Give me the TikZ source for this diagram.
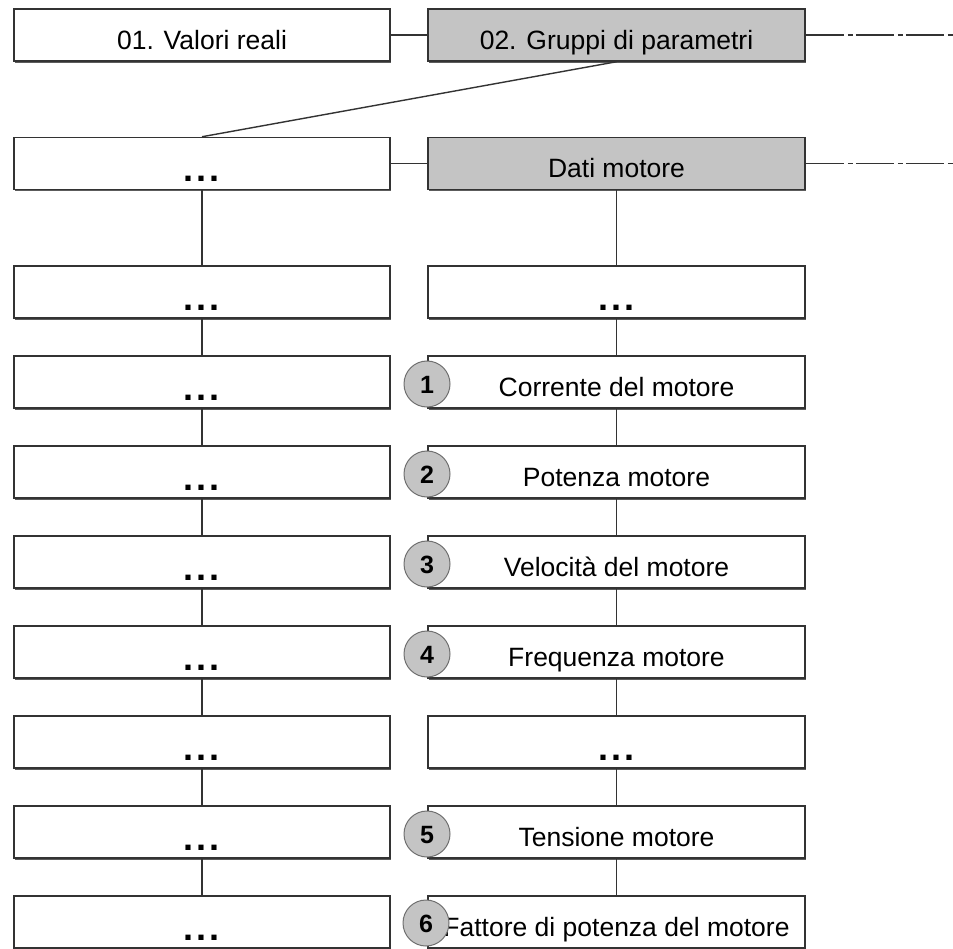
\documentclass[tikz,border=0pt]{standalone}
\usepackage{fontspec}
\setmainfont{Liberation Sans}
\usetikzlibrary{shadows}
\definecolor{boxgray}{HTML}{C4C4C4}
\definecolor{linecol}{HTML}{333333}
\begin{document}
\begin{tikzpicture}[x=1pt,y=-1pt,
  box/.style={draw=linecol, line width=1.5pt, fill=white, minimum height=52pt, inner sep=0pt,
    font=\fontsize{26.5}{30}\selectfont,
    general shadow={fill=linecol!80, shadow xshift=1.2pt, shadow yshift=-2pt}},
  lbox/.style={box, minimum width=376pt},
  rbox/.style={box, minimum width=377pt},
  gbox/.style={rbox, fill=boxgray},
  num/.style={circle, draw=linecol!70, line width=1pt, fill=boxgray, minimum size=46pt, inner sep=0pt,
    text depth=0pt, font=\fontsize{25}{27}\selectfont\bfseries},
  conn/.style={draw=linecol, line width=1.4pt},
  dashdot/.style={conn, dash pattern=on 38pt off 4pt on 5pt off 3pt}]
\useasboundingbox (0,0) rectangle (953,949);
\fill[white] (0,0) rectangle (953,949);
\newcommand{\dts}{\raisebox{-18.5pt}[0pt][0pt]{\fontsize{36}{36}\selectfont\bfseries .\hspace{3pt}.\hspace{3pt}.}}
\newcommand{\lw}[1]{\raisebox{-14.5pt}[0pt][0pt]{#1}}
% row 1
\node[lbox] (L1) at (202,35) {\lw{01. Valori reali}};
\node[gbox] (R1) at (616.5,35) {\lw{02. Gruppi di parametri}};
% row 2
\node[lbox] (L2) at (202,163.5) {\dts};
\node[gbox] (R2) at (616.5,163.5) {\lw{Dati motore}};
% rows
\node[lbox] (L3) at (202,292) {\dts};
\node[rbox] (R3) at (616.5,292) {\dts};
\node[lbox] (L4) at (202,382) {\dts};
\node[rbox] (R4) at (616.5,382) {\lw{Corrente del motore}};
\node[lbox] (L5) at (202,472) {\dts};
\node[rbox] (R5) at (616.5,472) {\lw{Potenza motore}};
\node[lbox] (L6) at (202,562) {\dts};
\node[rbox] (R6) at (616.5,562) {\lw{Velocità del motore}};
\node[lbox] (L7) at (202,652) {\dts};
\node[rbox] (R7) at (616.5,652) {\lw{Frequenza motore}};
\node[lbox] (L8) at (202,742) {\dts};
\node[rbox] (R8) at (616.5,742) {\dts};
\node[lbox] (L9) at (202,832) {\dts};
\node[rbox] (R9) at (616.5,832) {\lw{Tensione motore}};
\node[lbox] (L10) at (202,922) {\dts};
\node[rbox] (R10) at (616.5,922) {\lw{Fattore di potenza del motore}};
% circles
\node[num] (C1) at (427,384) {\raisebox{-1.5pt}{1}};
\node[num] (C2) at (427,474) {\raisebox{-1.5pt}{2}};
\node[num] (C3) at (427,564) {\raisebox{-1.5pt}{3}};
\node[num] (C4) at (427,654) {\raisebox{-1.5pt}{4}};
\node[num] (C5) at (427,834) {\raisebox{-1.5pt}{5}};
\node[num] (C6) at (426,923) {\raisebox{-1.5pt}{6}};
% connectors
\coordinate (E1) at (960,35);
\coordinate (E2) at (960,163.5);
\draw[conn] (L1.east) -- (R1.west);
\draw[conn] (L2.east) -- (R2.west);
\draw[dashdot] (R1.east) -- (E1);
\draw[dashdot] (R2.east) -- (E2);
\draw[conn] (R1.south) -- (L2.north);
\foreach \a/\b in {2/3,3/4,4/5,5/6,6/7,7/8,8/9,9/10}{
  \draw[conn] (L\a.south) -- (L\b.north);
  \draw[conn] (R\a.south) -- (R\b.north);
}
\end{tikzpicture}
\end{document}
